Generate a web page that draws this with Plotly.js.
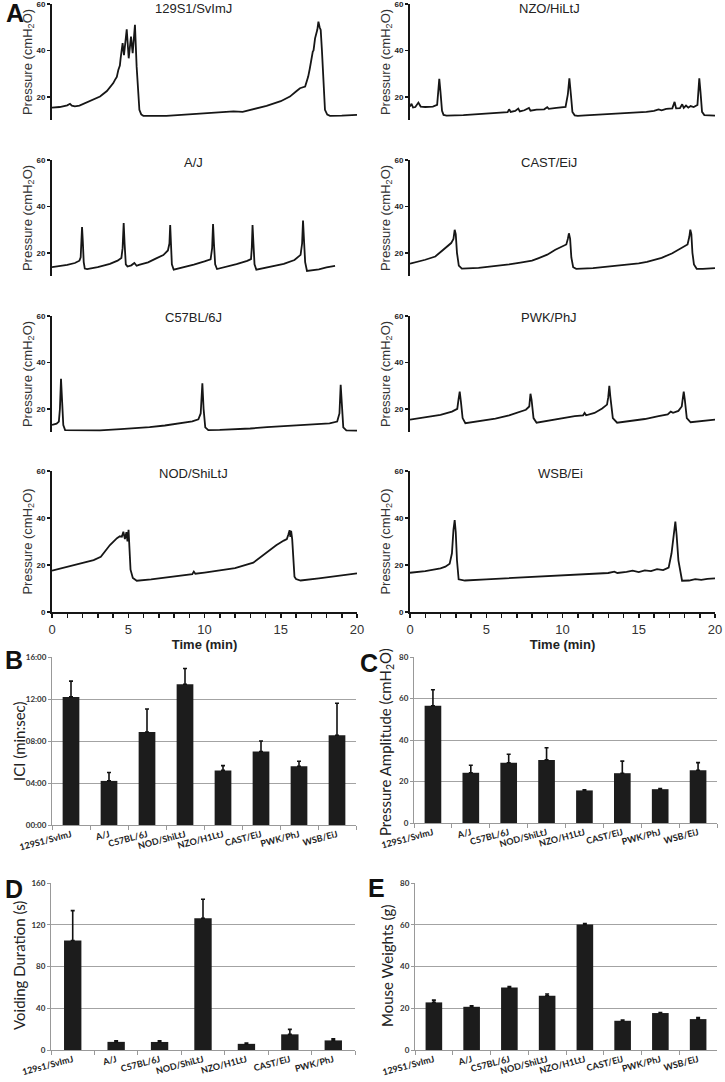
<!DOCTYPE html>
<html><head><meta charset="utf-8">
<script src="https://cdn.plot.ly/plotly-3.0.1.min.js"></script>
<style>html,body{margin:0;padding:0;background:#fff}#chart{width:725px;height:1082px}</style>
</head><body><div id="chart"></div>
<script>
// ---------- Panel A: cystometry traces (time in min, pressure in cmH2O) ----------
const t129S1 = [0,0.5,1.0,1.18,1.3,1.5,1.8,2.2,2.7,3.15,3.6,3.9,4.02,4.13,4.25,4.35,4.45,4.5,4.63,4.72,4.9,5.03,5.18,5.29,5.44,5.55,5.65,5.73,5.85,5.99,7.5,9,10.5,11.9,12.5,13,14.07,15,15.6,16,16.26,16.6,16.8,16.9,17.03,17.1,17.15,17.25,17.4,17.47,17.55,17.62,17.7,17.75,17.82,17.9,18.05,18.23,19,20];
const p129S1 = [15.3,15.6,16.3,17,16.2,15.9,16.2,17.3,18.6,20.1,22.5,24.8,25.9,27.3,28.6,31.6,33.5,36.6,43.1,38,49.1,36.6,45.9,38.8,51,33,20,14.4,12.4,11.8,11.8,12.4,13.0,13.7,13.5,14.3,16.1,18.1,20.1,22.3,23.7,24.4,28.7,32,38,39.5,40,45.2,49,52.4,50,48.8,40,33,22,14.4,12.3,11.8,11.9,12.2];

const tNZO = [0,0.1,0.2,0.35,0.55,0.7,1.0,1.5,1.78,1.85,1.92,2.0,2.1,2.2,2.4,3.5,4.5,5.5,6.4,6.5,6.6,6.9,7.1,7.2,7.5,7.8,7.9,8.3,8.8,9.0,9.1,9.6,10.2,10.35,10.45,10.55,10.65,10.8,11.0,11.5,12.5,13.5,14.5,15.5,16.0,16.3,16.5,16.8,17.2,17.35,17.45,17.7,17.85,17.95,18.1,18.25,18.4,18.6,18.85,18.92,18.97,19.05,19.15,19.3,20];
const pNZO = [15.8,17,15.4,15.6,17.5,15.8,15.6,15.8,16.5,22,27.7,22,14,12.2,11.9,12.1,12.6,13.1,13.4,14.6,13.5,13.9,14.9,13.7,14.2,15.2,14.0,14.5,14.6,15.5,14.8,15.2,15.6,21,28,21,13.5,12,11.8,12.0,12.3,12.8,13.1,13.5,13.9,14.6,14.2,14.8,15.0,17.8,15,15.1,16.8,15.2,16.2,15.3,16,15.6,16.5,22,28,22,13.5,12.1,11.9];

const tAJ = [0,0.5,1.0,1.5,1.8,1.88,1.93,1.97,2.02,2.08,2.15,2.3,3.0,3.8,4.3,4.55,4.63,4.7,4.76,4.84,4.95,5.2,5.4,5.55,5.7,6.3,6.8,7.3,7.6,7.7,7.75,7.8,7.86,7.98,8.5,9.3,10.0,10.4,10.5,10.56,10.62,10.7,10.82,11.4,12.1,12.8,13.05,13.1,13.15,13.21,13.28,13.4,14.2,15.2,15.9,16.3,16.4,16.46,16.52,16.6,16.72,17.5,18.0,18.56];
const pAJ = [13.8,14.2,14.8,15.6,16.6,18,25,31.1,25,16,13.2,13.0,13.8,15.2,16.6,17.8,22,32.8,24,15,14.1,14.6,15.6,14.4,14.8,15.9,17.5,19.0,21,24,32,25,15,12.7,13.5,14.9,16.3,17.2,22,32.4,24,15,13.0,13.9,15.1,16.5,17.3,22,32,24,15,12.7,13.8,15.2,16.9,19.1,24,33.9,26,16,12.2,12.9,13.7,14.4];

const tCAST = [0,0.5,1.0,1.66,2.3,2.7,2.85,2.93,3.0,3.08,3.2,3.4,4.5,5.5,6.5,7.24,8.0,8.4,9.0,9.53,10.0,10.25,10.35,10.42,10.5,10.58,10.7,10.9,12,13,14,15,15.54,16.5,17.2,17.84,18.2,18.32,18.38,18.45,18.52,18.62,18.8,19.2,20];
const pCAST = [15.3,16.0,17.0,18.4,22,24.2,26,29.9,28,20,14.5,13.2,13.5,14.2,15.0,15.8,16.6,17.6,19.2,21.3,22.8,23.6,26,28.4,26,18,13.8,13.1,13.4,14.0,14.6,15.4,16.1,17.8,19.8,22.4,23.6,27,30,28,20,15,13.1,13.1,13.4];

const tC57 = [0,0.3,0.45,0.52,0.59,0.66,0.74,0.86,1.5,2.5,3.15,4.5,5.5,6.4,7.4,8.4,9.2,9.6,9.75,9.86,9.94,10.05,10.25,11,11.9,13,14.1,15.5,17,18.2,18.7,18.85,18.93,19.0,19.1,19.3,20];
const pC57 = [13.1,13.6,14.5,20,32.9,22,13,10.8,10.7,10.8,10.7,11.2,11.6,12.1,12.8,13.8,14.6,15.5,18,31,20,12,10.8,10.9,11.1,11.5,12.1,12.6,13.1,13.7,14.5,18,30.3,20,12,10.7,10.6];

const tPWK = [0,1,2,2.75,3.1,3.18,3.26,3.34,3.45,3.63,4.5,5.6,6.5,7.0,7.6,7.82,7.9,7.97,8.1,8.3,9.1,9.9,10.8,11.35,11.45,11.55,12.1,12.6,12.92,13.0,13.07,13.14,13.3,13.58,14.5,15.4,16.3,16.9,17.1,17.25,17.6,17.82,17.9,17.95,18.02,18.15,18.4,19.2,20];
const pPWK = [15.3,16.3,17.4,18.8,20,24,27.4,23,16,13.8,14.7,15.8,17.2,18.2,19.6,21,26.5,24,16,14.0,14.9,15.9,16.8,17.2,18.2,17.2,18.2,20.1,21.8,25,29.9,25,16,14.0,14.8,15.6,16.8,17.6,18.8,18.3,19.1,21,25,27.4,24,16,14.2,14.6,15.3];

const tNOD = [0,1,2,2.73,3.2,3.8,4.26,4.45,4.58,4.68,4.78,4.88,4.95,5.02,5.08,5.15,5.3,5.56,6.5,7.5,8.5,9.2,9.3,9.4,10,11,12,13.2,14.0,14.7,15.2,15.4,15.5,15.58,15.63,15.68,15.75,15.82,15.9,16.0,16.3,17.5,18.5,19.3,20];
const pNOD = [17.6,19.2,20.8,22.1,23.5,28.5,31.4,32.2,32,34.2,31,34,30,35,27,18,14.5,13.3,13.9,14.6,15.3,16.1,17.2,16.3,16.8,17.7,18.7,21,25,28.4,30.4,31,33,34.8,32,34.5,31,22,15,14.0,13.4,14.3,15.2,15.9,16.4];

const tWSB = [0,1,2,2.32,2.6,2.75,2.85,2.93,3.0,3.08,3.19,3.6,5,6.5,8,9.5,10.8,12.15,13,13.4,13.6,14.2,14.6,15.0,15.4,15.8,16.2,16.6,16.96,17.15,17.3,17.4,17.48,17.6,17.84,18.3,18.7,19.1,19.5,20];
const pWSB = [16.7,17.4,18.6,19.3,20.5,25,35,39.1,34,22,13.9,13.4,13.9,14.4,14.9,15.4,15.8,16.2,16.6,17.2,16.6,17.1,17.6,17.0,17.7,17.4,18.2,17.8,18.9,25,35,38.5,33,22,13.3,13.4,14.0,13.7,14.1,14.3];

const traceNames = ["129S1/SvImJ","NZO/HiLtJ","A/J","CAST/EiJ","C57BL/6J","PWK/PhJ","NOD/ShiLtJ","WSB/Ei"];
const pressureTicksUpper = [20,40,60];
const pressureTicksLower = [0,20,40,60];
const timeTickVals = [0,5,10,15,20];
const timeTickText = ["0","5","10","15","20"];

// ---------- Panels B-E ----------
const strains = ["129S1/SvImJ","A/J","C57BL/6J","NOD/ShiLtJ","NZO/H1LtJ","CAST/EiJ","PWK/PhJ","WSB/EiJ"];
const strainsD = ["129s1/SvImJ","A/J","C57BL/6J","NOD/ShiLtJ","NZO/H1LtJ","CAST/EiJ","PWK/PhJ"];
const iciMin = [12.2,4.2,8.85,13.4,5.2,7.0,5.6,8.55];
const iciErr = [1.5,0.8,2.2,1.5,0.45,1.0,0.47,3.05];
const iciTickVals = [0,4,8,12,16];
const iciTickText = ["00:00","04:00","08:00","12:00","16:00"];
const amplitude = [56.5,24.2,29.0,30.4,15.7,24.0,16.3,25.4];
const amplitudeErr = [7.7,3.6,4.1,5.9,0.3,5.8,0.3,3.7];
const voidDur = [104.9,7.8,7.7,126.2,5.9,15.0,9.2];
const voidDurErr = [28.6,1.0,1.2,18.2,0.8,4.8,1.6];
const weights = [22.8,20.7,29.9,26.0,60.1,14.0,17.7,14.8];
const weightsErr = [1.1,0.5,0.5,0.8,0.5,0.3,0.2,0.8];

// ---------- helpers (layout geometry in page pixels) ----------
const W = 725, H = 1082;
const dx = (a,b) => [a/W, b/W];
const dy = (top,bot) => [1-bot/H, 1-top/H];

const arial = "Arial, 'Liberation Sans', sans-serif";
const lato = "Lato, 'Open Sans', sans-serif";
const ink = '#161616';

const series = [
  [t129S1,p129S1],[tNZO,pNZO],[tAJ,pAJ],[tCAST,pCAST],
  [tC57,pC57],[tPWK,pPWK],[tNOD,pNOD],[tWSB,pWSB]
];
const data = [];
series.forEach((s,i) => {
  data.push({type:'scatter', mode:'lines', x:s[0], y:s[1], name:traceNames[i],
    xaxis:'x'+(i+1), yaxis:'y'+(i+1), line:{color:ink, width:1.8}, hoverinfo:'x+y'});
});
function barTrace(cats, vals, errs, ax, w){
  return {type:'bar', x:cats, y:vals, xaxis:'x'+ax, yaxis:'y'+ax, width:w,
    marker:{color:'#1c1c1c', line:{width:0}},
    error_y:{type:'data', symmetric:false, array:errs, arrayminus:errs.map(()=>0),
      color:'#111', thickness:1.6, width:2}};
}
data.push(barTrace(strains, iciMin, iciErr, 9, 0.44));
data.push(barTrace(strains, amplitude, amplitudeErr, 10, 0.44));
data.push(barTrace(strainsD, voidDur, voidDurErr, 11, 0.4));
data.push(barTrace(strains, weights, weightsErr, 12, 0.44));

const layout = {
  width: W, height: H, margin:{l:0,r:0,t:0,b:0},
  paper_bgcolor:'#fff', plot_bgcolor:'#fff', showlegend:false,
  font:{family:arial, color:'#222'},
  annotations: []
};

// trace panels geometry
const colX = [dx(52,357), dx(410,715)];
const rowY = [[4,120],[160,276],[316,432],[471,612]];
for (let i=0;i<8;i++){
  const col = i%2, row = Math.floor(i/2);
  const last = row===3;
  const xa = {domain:colX[col], range:[0,20], anchor:'y'+(i+1), showgrid:false, zeroline:false, fixedrange:true};
  if (last){
    Object.assign(xa, {visible:true, showline:true, linecolor:ink, linewidth:2,
      tickmode:'array', tickvals:timeTickVals, ticktext:timeTickText,
      ticks:'outside', ticklen:4, tickwidth:1.5, tickcolor:ink,
      minor:{dtick:1, ticks:'outside', ticklen:4, tickwidth:1.5, tickcolor:ink, showgrid:false},
      tickfont:{family:arial, size:13, color:'#333'},
      title:{text:'Time (min)', font:{family:arial, size:13, color:'#222', weight:'bold'}, standoff:2}});
  } else {
    xa.visible = false;
  }
  const ya = {domain:dy(rowY[row][0], rowY[row][1]), anchor:'x'+(i+1),
    range: last ? [0,60] : [10,60],
    tickmode:'array', tickvals: last ? pressureTicksLower : pressureTicksUpper,
    ticks:'outside', ticklen:3, tickwidth:1.5, tickcolor:ink, ticklabeloverflow:'allow',
    showline:true, linecolor:ink, linewidth:2, showgrid:false, zeroline:false, fixedrange:true,
    tickfont:{family:arial, size:8, color:'#222', weight:'bold'},
    title:{text:'Pressure (cmH<sub>2</sub>O)', font:{family:arial, size:13, color:'#333'}, standoff:1}};
  layout['xaxis'+(i+1)] = xa;
  layout['yaxis'+(i+1)] = ya;
}

// subplot titles
const titlePos = [[193,9],[549,9],[193,162],[549,162],[193,318],[549,318],[193,473],[560,473]];
titlePos.forEach((p,i)=>{
  layout.annotations.push({text:traceNames[i], x:p[0]/W, y:1-p[1]/H, xref:'paper', yref:'paper',
    xanchor:'center', yanchor:'middle', showarrow:false, font:{family:arial, size:13, color:'#222'}});
});

// bar panels
function barAxes(n, xd, yd, range, tickvals, ticktext){
  layout['xaxis'+n] = {domain:xd, anchor:'y'+n, type:'category', tickangle:-15,
    tickfont:{family:lato, size:9, color:'#222', weight:'bold'},
    ticks:'outside', tickson:'boundaries', ticklen:4, tickcolor:'#999',
    showline:true, linecolor:'#999', linewidth:1, showgrid:false, zeroline:false, fixedrange:true};
  const ya = {domain:yd, anchor:'x'+n, range:range,
    showgrid:true, gridcolor:'#a3a3a3', gridwidth:1, zeroline:false,
    showline:true, linecolor:'#999', linewidth:1, ticks:'outside', ticklen:3, tickcolor:'#999',
    tickfont:{family:lato, size:8, color:'#333', weight:'bold'}, fixedrange:true};
  if (tickvals){ ya.tickmode='array'; ya.tickvals=tickvals; ya.ticktext=ticktext; }
  else { ya.dtick = range[1]/4; }
  layout['yaxis'+n] = ya;
}
barAxes(9, dx(52,356), dy(657,825), [0,16], iciTickVals, iciTickText);
barAxes(10, dx(414,717), dy(657,823), [0,80]);
barAxes(11, dx(51,355), dy(883,1050), [0,160]);
barAxes(12, dx(415,717), dy(883,1050), [0,80]);

// y-axis titles of the bar panels, placed as rotated text
const barTitles = [['ICI (min:sec)',19,741],['Pressure Amplitude (cmH<sub>2</sub>O)',386,742],
                   ['Voiding Duration (s)',19,966],['Mouse Weights (g)',387,966]];
barTitles.forEach(b=>{
  layout.annotations.push({text:b[0], x:b[1]/W, y:1-b[2]/H, xref:'paper', yref:'paper',
    xanchor:'center', yanchor:'middle', textangle:-90, showarrow:false,
    font:{family:lato, size:15, color:'#222'}});
});

// panel letters
const letters = [['A',15,13],['B',14,660],['C',369,663],['D',14,889],['E',376,888]];
letters.forEach(l=>{
  layout.annotations.push({text:l[0], x:l[1]/W, y:1-l[2]/H, xref:'paper', yref:'paper',
    xanchor:'center', yanchor:'middle', showarrow:false,
    font:{family:arial, size:25, color:'#111', weight:'bold'}});
});

Plotly.newPlot('chart', data, layout, {displayModeBar:false, staticPlot:true});
</script>
</body></html>
